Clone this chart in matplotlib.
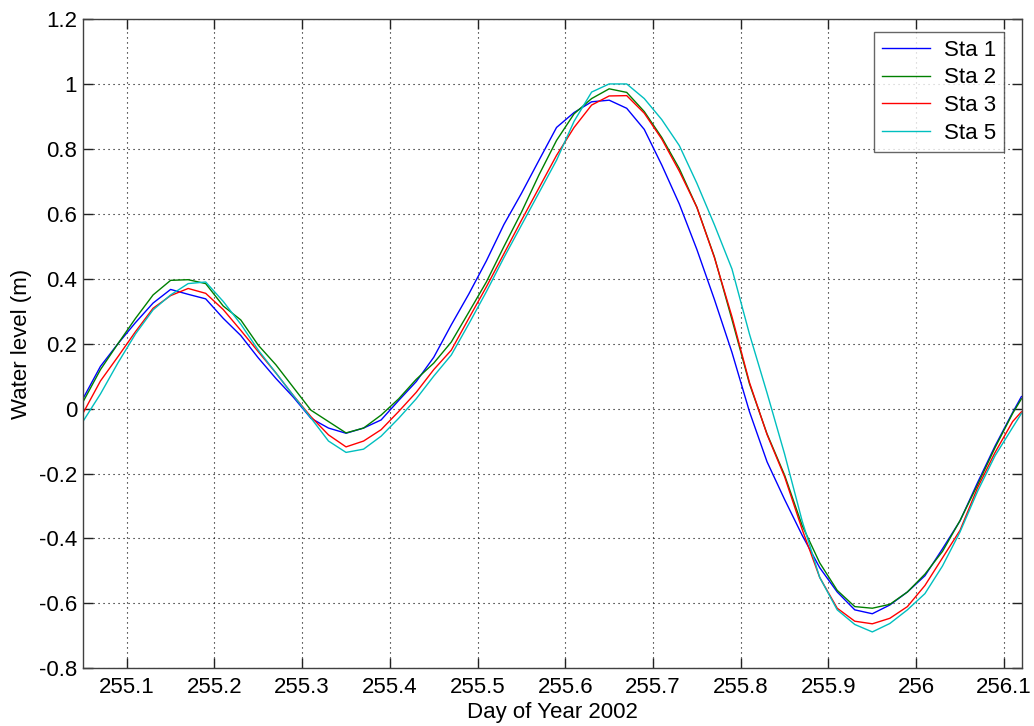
import matplotlib
matplotlib.use("Agg")
import matplotlib.pyplot as plt
from matplotlib.ticker import FuncFormatter, MultipleLocator

plt.rcParams['font.family'] = ['Liberation Sans', 'DejaVu Sans']
plt.rcParams['axes.unicode_minus'] = False

day = [255.05, 255.07, 255.09, 255.11, 255.13, 255.15, 255.17, 255.19, 255.21, 255.23,
       255.25, 255.27, 255.29, 255.31, 255.33, 255.35, 255.37, 255.39, 255.41, 255.43,
       255.45, 255.47, 255.49, 255.51, 255.53, 255.55, 255.57, 255.59, 255.61, 255.63,
       255.65, 255.67, 255.69, 255.71, 255.73, 255.75, 255.77, 255.79, 255.81, 255.83,
       255.85, 255.87, 255.89, 255.91, 255.93, 255.95, 255.97, 255.99, 256.01, 256.03,
       256.05, 256.07, 256.09, 256.11, 256.12]

sta1 = [0.03, 0.13, 0.20, 0.265, 0.325, 0.367, 0.352, 0.338, 0.278, 0.225,
        0.156, 0.093, 0.035, -0.03, -0.06, -0.076, -0.06, -0.035, 0.025, 0.083,
        0.158, 0.258, 0.353, 0.455, 0.567, 0.663, 0.765, 0.866, 0.912, 0.945,
        0.95, 0.925, 0.86, 0.75, 0.63, 0.49, 0.336, 0.173, -0.01, -0.164,
        -0.28, -0.39, -0.49, -0.565, -0.62, -0.632, -0.605, -0.565, -0.515, -0.432,
        -0.346, -0.228, -0.115, -0.012, 0.037]

sta2 = [0.02, 0.12, 0.20, 0.278, 0.35, 0.395, 0.397, 0.385, 0.316, 0.273,
        0.195, 0.135, 0.065, -0.005, -0.04, -0.075, -0.06, -0.02, 0.03, 0.09,
        0.14, 0.205, 0.297, 0.39, 0.499, 0.605, 0.72, 0.826, 0.908, 0.955,
        0.985, 0.974, 0.915, 0.835, 0.739, 0.62, 0.467, 0.274, 0.076, -0.078,
        -0.205, -0.36, -0.475, -0.56, -0.61, -0.615, -0.603, -0.565, -0.51, -0.44,
        -0.345, -0.235, -0.12, -0.015, 0.03]

sta3 = [-0.015, 0.085, 0.16, 0.237, 0.309, 0.348, 0.37, 0.355, 0.305, 0.241,
        0.175, 0.11, 0.04, -0.025, -0.081, -0.118, -0.1, -0.065, -0.009, 0.05,
        0.12, 0.18, 0.278, 0.375, 0.477, 0.58, 0.68, 0.78, 0.866, 0.935,
        0.963, 0.964, 0.91, 0.83, 0.731, 0.62, 0.465, 0.283, 0.08, -0.08,
        -0.21, -0.372, -0.52, -0.615, -0.655, -0.663, -0.646, -0.61, -0.545, -0.46,
        -0.375, -0.244, -0.135, -0.04, -0.01]

sta5 = [-0.04, 0.045, 0.141, 0.23, 0.304, 0.35, 0.385, 0.39, 0.33, 0.26,
        0.18, 0.11, 0.04, -0.029, -0.1, -0.135, -0.125, -0.085, -0.03, 0.03,
        0.1, 0.165, 0.261, 0.36, 0.465, 0.565, 0.665, 0.765, 0.885, 0.975,
        1.0, 1.0, 0.955, 0.89, 0.81, 0.694, 0.566, 0.43, 0.229, 0.048,
        -0.14, -0.346, -0.52, -0.62, -0.665, -0.688, -0.662, -0.62, -0.57, -0.485,
        -0.38, -0.255, -0.145, -0.058, -0.015]

labels = ["Sta 1", "Sta 2", "Sta 3", "Sta 5"]
colors = ["#0000ff", "#008000", "#ff0000", "#00bfbf"]

FS = 16

fig = plt.figure(figsize=(10.34, 7.26), dpi=100)
ax = fig.add_axes([0.080, 0.0795, 0.908, 0.8943])

for ser, lab, col in zip([sta1, sta2, sta3, sta5], labels, colors):
    ax.plot(day, ser, color=col, lw=1.0, label=lab)

ax.set_xlim(255.0498, 256.1202)
ax.set_ylim(-0.8, 1.2)
ax.xaxis.set_major_locator(MultipleLocator(0.1))
ax.yaxis.set_major_locator(MultipleLocator(0.2))
fmt = FuncFormatter(lambda v, p: "%g" % round(v, 4))
ax.xaxis.set_major_formatter(fmt)
ax.yaxis.set_major_formatter(fmt)

ax.grid(True, color='black', linestyle=(0, (1, 3.5)), linewidth=0.8)
ax.tick_params(direction='in', length=7, width=1, top=True, right=True,
               labelsize=FS, colors='#222222', labelcolor='black')
ax.tick_params(axis='x', pad=6)
ax.tick_params(axis='y', pad=4)
for s in ax.spines.values():
    s.set_color('#404040')
    s.set_linewidth(1.0)

ax.set_xlabel("Day of Year 2002", fontsize=FS, labelpad=3)
ax.set_ylabel("Water level (m)", fontsize=FS, labelpad=5)

leg = ax.legend(loc='upper right', bbox_to_anchor=(0.981, 0.98), fontsize=FS,
                frameon=True, fancybox=False, handlelength=2.2, handletextpad=0.6,
                labelspacing=0.3, borderpad=0.35, borderaxespad=0.0)
leg.get_frame().set_edgecolor('#404040')
leg.get_frame().set_linewidth(1.0)

fig.savefig("out.png", dpi=100)
